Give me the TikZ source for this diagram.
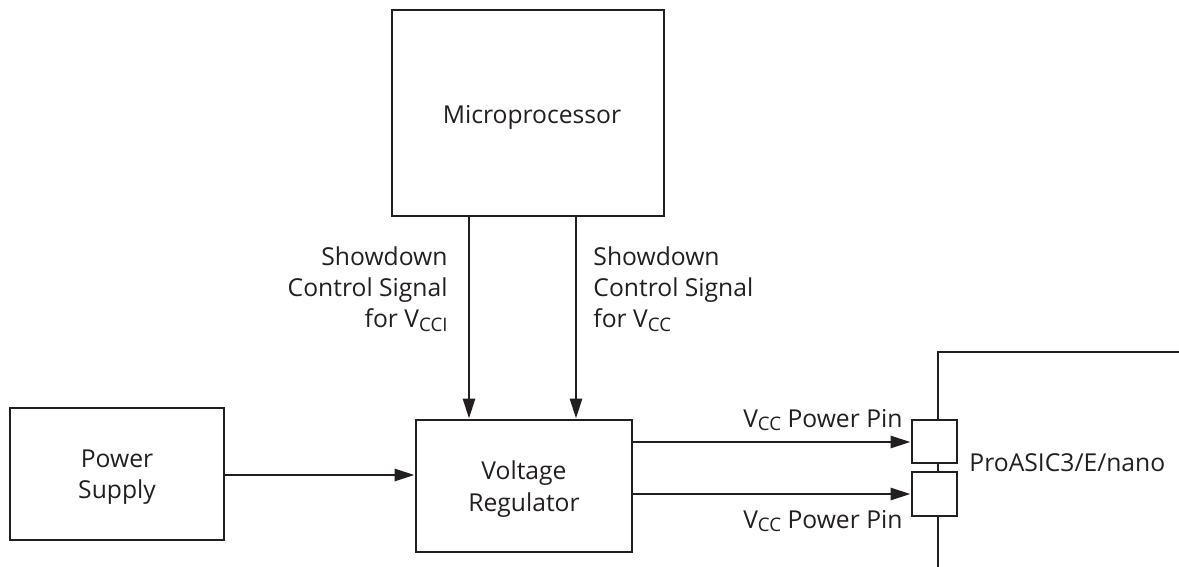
\documentclass[tikz,border=0pt]{standalone}
\usepackage{fontspec}
\setmainfont{Open Sans}
\usetikzlibrary{arrows.meta}
\definecolor{ink}{RGB}{35,31,32}
\newcommand{\sub}[1]{\raisebox{-0.3ex}{\fontsize{14}{14}\selectfont #1}}
\begin{document}
\begin{tikzpicture}[x=0.75pt,y=-0.75pt,
  line width=2.2pt, color=ink,
  blk/.style={draw=ink, line width=2.2pt, inner sep=0pt},
  lbl/.style={font=\fontsize{18.5}{23.5}\selectfont, text=ink, inner sep=0pt},
  arr/.style={-{Triangle[length=15pt,width=9pt]}, line width=2.2pt, draw=ink}]
\useasboundingbox (0,0) rectangle (1179,567);
\node[blk, minimum width=272*0.75pt, minimum height=206*0.75pt] (mp) at (528,113) {};
\node[lbl, anchor=base] (mpt) at (532,123) {Microprocessor};
\node[blk, minimum width=214*0.75pt, minimum height=132*0.75pt] (ps) at (117,474) {};
\node[lbl, align=center] (pst) at (117,477) {Power\\Supply};
\node[blk, minimum width=216*0.75pt, minimum height=132*0.75pt] (vr) at (524,486) {};
\node[lbl, align=center] (vrt) at (524,489) {Voltage\\Regulator};
\node[blk, minimum width=45*0.75pt, minimum height=43*0.75pt] (p1) at (934.5,441.5) {};
\node[blk, minimum width=45*0.75pt, minimum height=44*0.75pt] (p2) at (934.5,494) {};
\coordinate (ctop) at (938,352);
\coordinate (cright) at (1179,352);
\coordinate (cbot) at (938,567);
\draw (cright) -- (ctop) -- (p1.north -| ctop);
\draw (p1.south -| ctop) -- (p2.north -| ctop);
\draw (p2.south -| ctop) -- (cbot);
\node[lbl, anchor=base west] (chip) at (968,471) {ProASIC3/E/nano};
% arrows
\draw[arr] (mp.south -| 469,0) -- (vr.north -| 469,0);
\draw[arr] (mp.south -| 576,0) -- (vr.north -| 576,0);
\draw[arr] (ps.east |- 0,475) -- (vr.west |- 0,475);
\draw[arr] (vr.east |- 0,442) -- (p1.west |- 0,442);
\draw[arr] (vr.east |- 0,494) -- (p2.west |- 0,494);
% labels
\node[lbl, align=right, anchor=north east] (l1) at (449,245) {Showdown\\Control Signal\\for V\sub{CCI}};
\node[lbl, align=left, anchor=north west] (l2) at (592,245) {Showdown\\Control Signal\\for V\sub{CC}};
\node[lbl, anchor=base east] (t1) at (904,427) {V\sub{CC} Power Pin};
\node[lbl, anchor=base east] (t2) at (904,528) {V\sub{CC} Power Pin};
\end{tikzpicture}
\end{document}
